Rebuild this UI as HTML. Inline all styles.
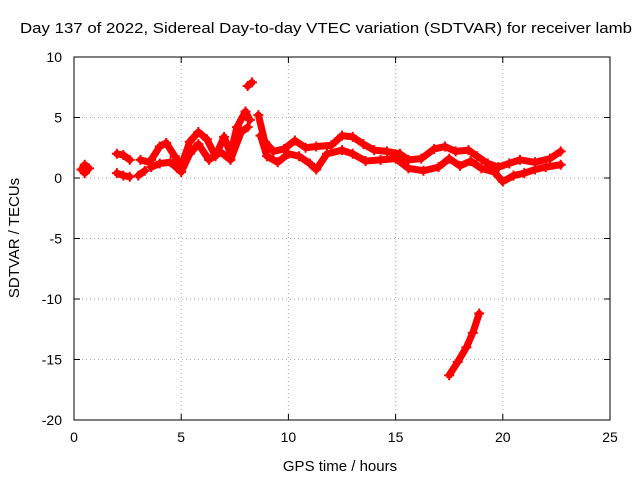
<!DOCTYPE html>
<html><head><meta charset="utf-8"><style>
body{margin:0;background:#fff;}
svg{display:block;font-family:"Liberation Sans",sans-serif;}
</style></head><body>
<svg id="chart" width="640" height="480" viewBox="0 0 640 480">
<rect width="640" height="480" fill="#fff"/>
<text x="20" y="33" font-size="15" textLength="612" lengthAdjust="spacingAndGlyphs">Day 137 of 2022, Sidereal Day-to-day VTEC variation (SDTVAR) for receiver lamb</text>
<g id="grid"></g>
<g id="axes"></g>
<g id="marks"></g>
<text x="340" y="471" text-anchor="middle" font-size="15">GPS time / hours</text>
<text transform="translate(19,238) rotate(-90)" text-anchor="middle" font-size="15">SDTVAR / TECUs</text>
</svg>
<script>
const xTicks=[0,5,10,15,20,25];
const yTicks=[10,5,0,-5,-10,-15,-20];
const seg1=[[0.35,0.7],[0.5,1.1],[0.7,0.8],[0.5,0.4]];
const seg2=[[2.0,2.0],[2.3,1.9],[2.6,1.5]];
const seg3=[[2.0,0.4],[2.3,0.2],[2.6,0.1]];
const seg4=[[3.1,1.5],[3.5,1.3]];
const seg5=[[3.0,0.2],[3.3,0.6]];
const upper=[[3.6,1.5],[4.0,2.6],[4.3,2.9],[4.7,1.8],[5.0,1.0],[5.4,3.0],[5.8,3.8],[6.2,3.2],[6.6,1.8],[7.0,3.4],[7.3,2.0],[7.6,4.2],[8.0,5.5],[8.2,4.8]];
const lower=[[3.6,0.9],[4.0,1.2],[4.5,1.3],[5.0,0.5],[5.4,2.0],[5.8,2.8],[6.3,1.5],[6.8,2.2],[7.3,1.5],[7.8,3.8],[8.1,4.2]];
const upper2=[[8.6,5.2],[8.9,3.0],[9.3,2.2],[9.8,2.4],[10.3,3.1],[10.8,2.5],[11.3,2.6],[12.0,2.7],[12.5,3.5],[13.0,3.4],[13.5,2.8],[14.0,2.3],[14.6,2.2],[15.2,2.0],[15.6,1.5],[16.2,1.6],[16.8,2.4],[17.3,2.6],[17.8,2.2],[18.4,2.3],[18.8,1.8],[19.3,1.2],[19.8,0.9],[20.3,1.2],[20.8,1.5],[21.5,1.3],[22.2,1.6],[22.7,2.2]];
const lower2=[[8.7,3.5],[9.0,1.8],[9.5,1.3],[10.0,2.0],[10.5,1.8],[11.0,1.2],[11.3,0.7],[11.8,2.0],[12.5,2.3],[13.0,2.0],[13.6,1.4],[14.3,1.5],[15.0,1.6],[15.6,0.8],[16.3,0.6],[17.0,0.9],[17.5,1.6],[18.0,1.0],[18.5,1.4],[19.0,0.8],[19.6,0.5],[20.0,-0.3],[20.5,0.2],[21.0,0.4],[21.5,0.7],[22.0,0.9],[22.7,1.1]];
const outlier=[[8.1,7.6],[8.3,7.9]];
const neg=[[17.5,-16.3],[17.9,-15.2],[18.3,-14.0],[18.6,-12.8],[18.9,-11.2]];
const series=[seg1,seg2,seg3,seg4,seg5,upper,lower,upper2,lower2,outlier,neg];
const names=['seg-1','seg-2','seg-3','seg-4','seg-5','upper-band-a','lower-band-a','upper-band-b','lower-band-b','outlier','negative-excursion'];
const X0=74,X1=610,Y0=57,Y1=420;
const sx=v=>X0+(v-0)/(25-0)*(X1-X0);
const sy=v=>Y1-(v+20)/(30)*(Y1-Y0);
const NS='http://www.w3.org/2000/svg';
const grid=document.getElementById('grid'),axes=document.getElementById('axes'),marks=document.getElementById('marks');
function mk(t,a,p){const e=document.createElementNS(NS,t);for(const k in a)e.setAttribute(k,a[k]);p.appendChild(e);return e;}
xTicks.forEach(t=>{const x=sx(t);
 if(t>0&&t<25){const g=mk('line',{x1:x,x2:x,y1:Y0,y2:Y1,stroke:'#aaa','stroke-dasharray':'1,3'},grid);}
 mk('line',{x1:x,x2:x,y1:Y1,y2:Y1-6,stroke:'#000'},axes);mk('line',{x1:x,x2:x,y1:Y0,y2:Y0+6,stroke:'#000'},axes);
 const l=mk('text',{x:x,y:Y1+22,'text-anchor':'middle','font-size':'14'},axes);l.textContent=t;
 });
yTicks.forEach(t=>{const y=sy(t);
 if(t>-20&&t<10){const g=mk('line',{x1:X0,x2:X1,y1:y,y2:y,stroke:'#aaa','stroke-dasharray':'1,3'},grid);}
 mk('line',{x1:X0,x2:X0+6,y1:y,y2:y,stroke:'#000'},axes);mk('line',{x1:X1,x2:X1-6,y1:y,y2:y,stroke:'#000'},axes);
 const l=mk('text',{x:X0-12,y:y+5,'text-anchor':'end','font-size':'14'},axes);l.textContent=t;
 });
mk('rect',{x:X0,y:Y0,width:X1-X0,height:Y1-Y0,fill:'none',stroke:'#000'},axes);
series.forEach((s,i)=>{
 const p=mk('polyline',{points:s.map(d=>sx(d[0])+','+sy(d[1])).join(' '),fill:'none',stroke:'#f00','stroke-width':7,'stroke-linejoin':'round','stroke-linecap':'round'},marks);
 
 
 s.forEach(d=>{const x=sx(d[0]),y=sy(d[1]);
  const c=mk('path',{d:`M${x-5},${y}h10M${x},${y-5}v10`,stroke:'#f00','stroke-width':2},marks);
  
  });
});
</script>
</body></html>
